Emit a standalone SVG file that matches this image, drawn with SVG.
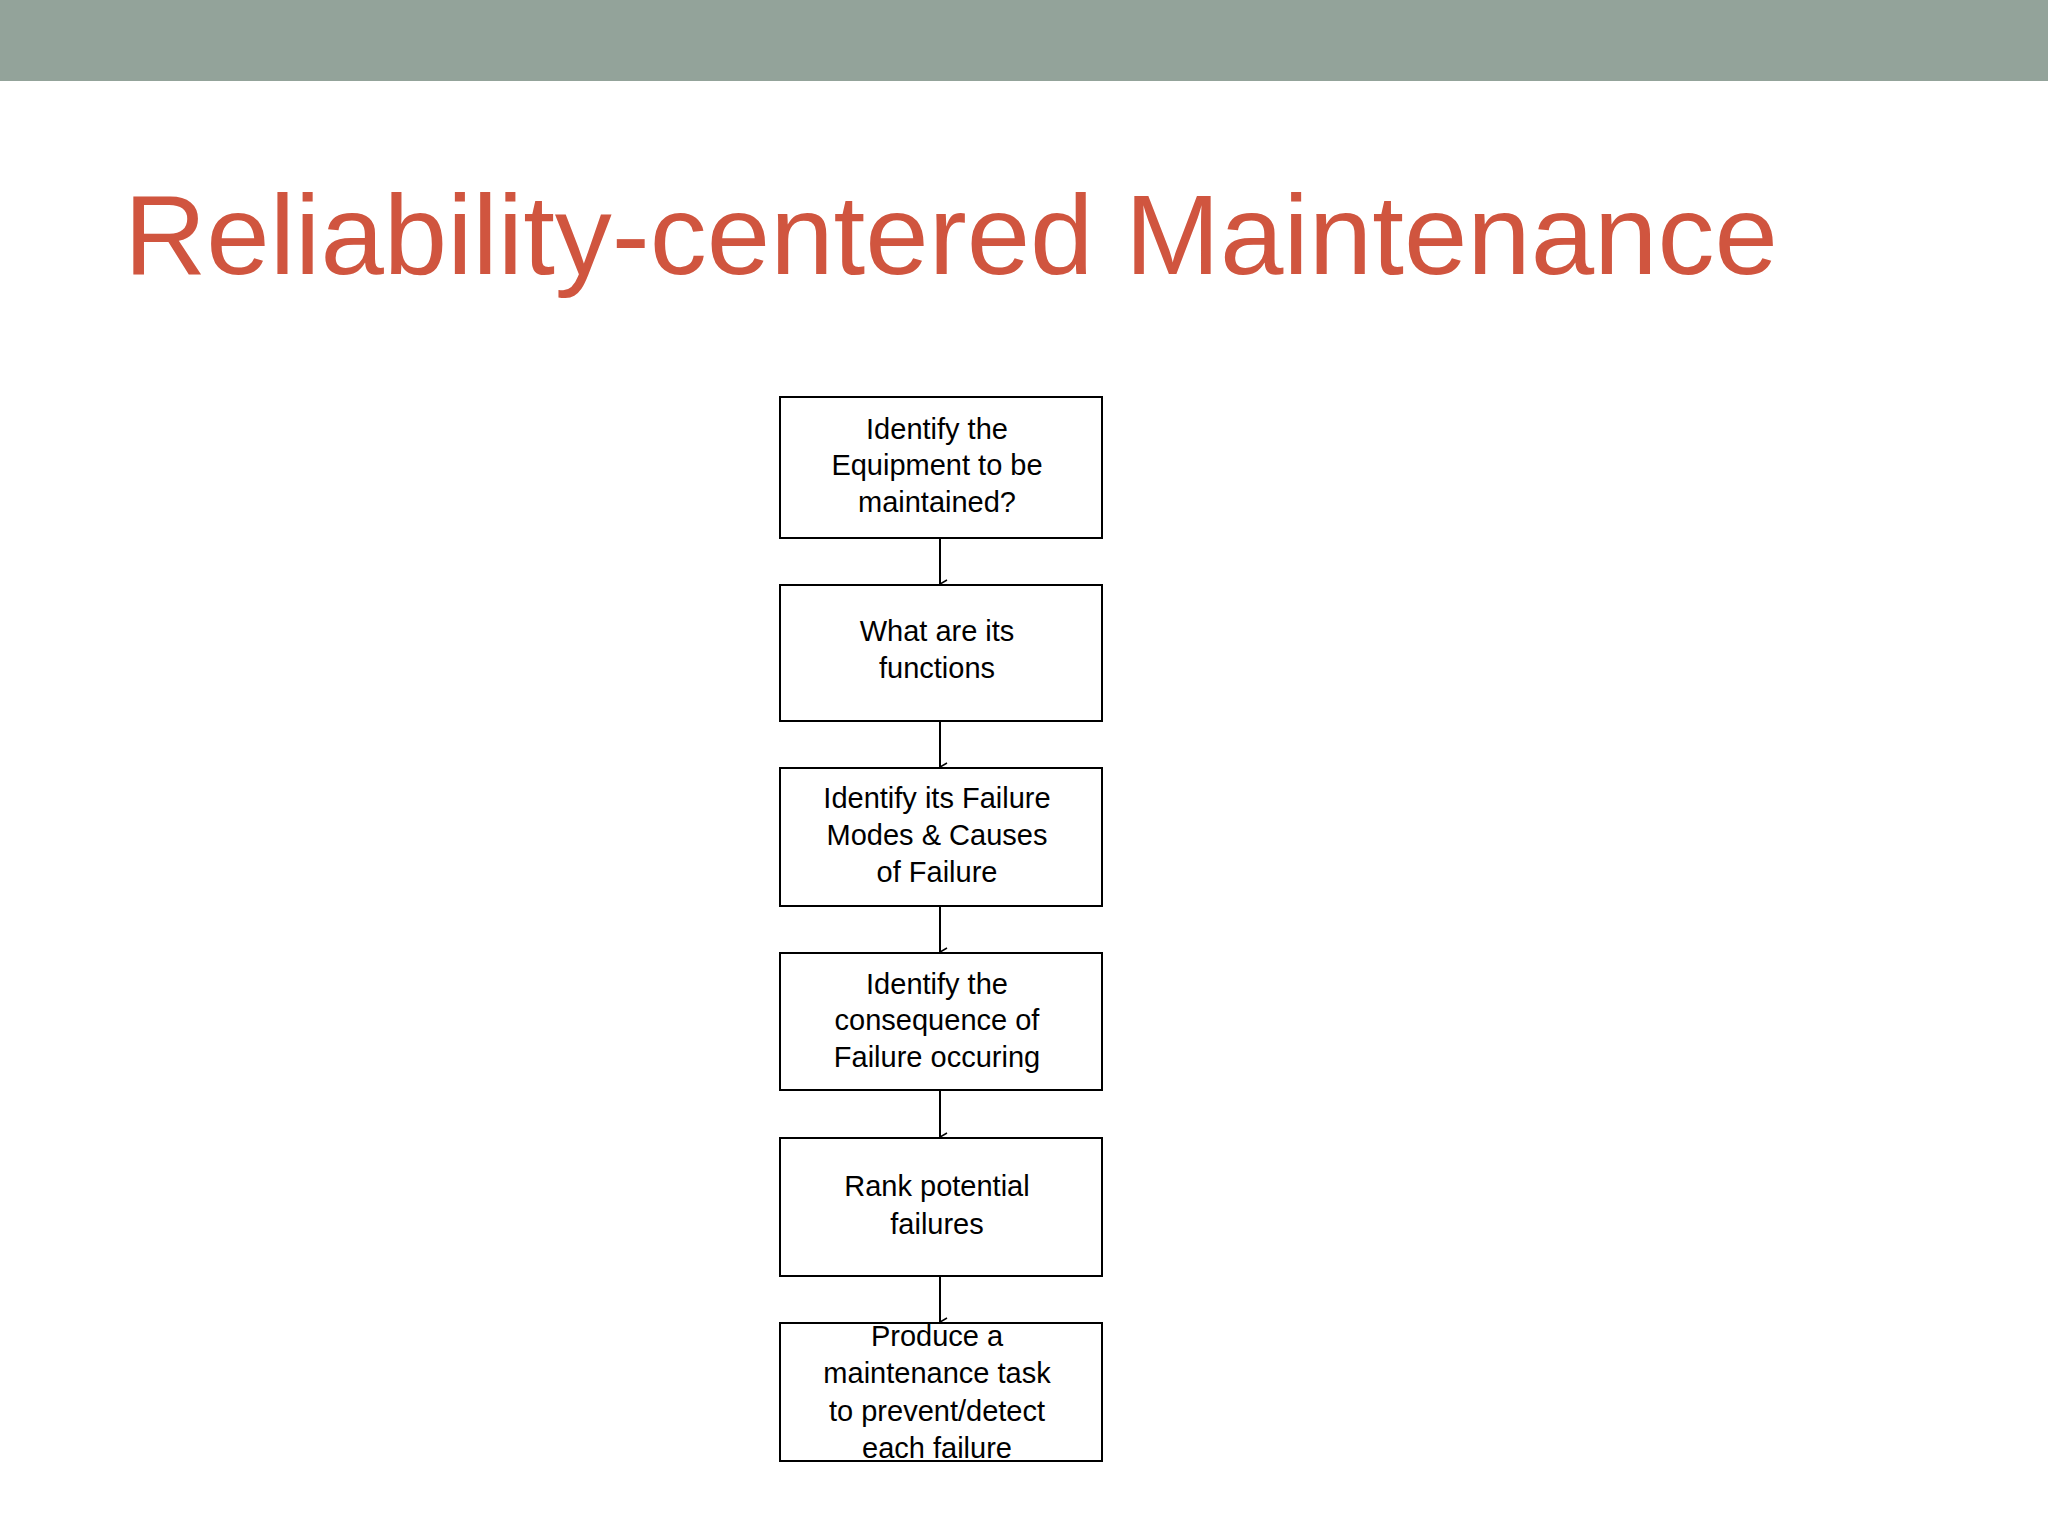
<svg xmlns="http://www.w3.org/2000/svg" width="2048" height="1536" viewBox="0 0 2048 1536">
<style>
.b{fill:#fff;stroke:#000;stroke-width:2}
.t{font-family:"Liberation Sans",Arial,sans-serif;font-size:29px;fill:#000;text-anchor:middle}
.c{stroke:#000;stroke-width:2;fill:none}
</style>
<defs><marker id="a" markerWidth="10" markerHeight="10" refX="5" refY="9" orient="auto" markerUnits="userSpaceOnUse"><path d="M1,2 L5,9 L9,2" fill="none" stroke="#000" stroke-width="1.5"/></marker></defs>
<rect width="2048" height="1536" fill="#fff"/>
<rect width="2048" height="81" fill="#93a39a"/>
<text x="124" y="274" font-family="Liberation Sans,Arial,sans-serif" font-size="114" fill="#d0553f">Reliability-centered Maintenance</text>
<g id="connectors">
<line class="c" x1="940" y1="538" x2="940" y2="584" marker-end="url(#a)"/>
<line class="c" x1="940" y1="721" x2="940" y2="767" marker-end="url(#a)"/>
<line class="c" x1="940" y1="906" x2="940" y2="952" marker-end="url(#a)"/>
<line class="c" x1="940" y1="1090" x2="940" y2="1137" marker-end="url(#a)"/>
<line class="c" x1="940" y1="1276" x2="940" y2="1322" marker-end="url(#a)"/>
</g>
<g id="n1"><rect class="b" x="780" y="397" width="322" height="141"/><text class="t" x="937" y="439">Identify the</text><text class="t" x="937" y="475">Equipment to be</text><text class="t" x="937" y="512">maintained?</text></g>
<g id="n2"><rect class="b" x="780" y="585" width="322" height="136"/><text class="t" x="937" y="641">What are its</text><text class="t" x="937" y="678">functions</text></g>
<g id="n3"><rect class="b" x="780" y="768" width="322" height="138"/><text class="t" x="937" y="808">Identify its Failure</text><text class="t" x="937" y="845">Modes &amp; Causes</text><text class="t" x="937" y="882">of Failure</text></g>
<g id="n4"><rect class="b" x="780" y="953" width="322" height="137"/><text class="t" x="937" y="994">Identify the</text><text class="t" x="937" y="1030">consequence of</text><text class="t" x="937" y="1067">Failure occuring</text></g>
<g id="n5"><rect class="b" x="780" y="1138" width="322" height="138"/><text class="t" x="937" y="1196">Rank potential</text><text class="t" x="937" y="1234">failures</text></g>
<g id="n6"><rect class="b" x="780" y="1323" width="322" height="138"/><text class="t" x="937" y="1346">Produce a</text><text class="t" x="937" y="1383">maintenance task</text><text class="t" x="937" y="1421">to prevent/detect</text><text class="t" x="937" y="1458">each failure</text></g>
</svg>
